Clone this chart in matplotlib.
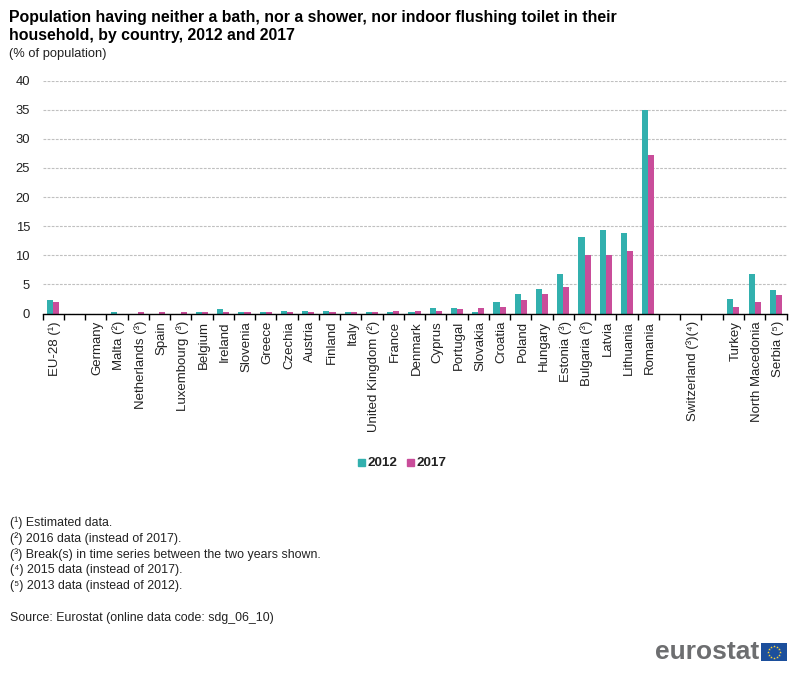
#!/usr/bin/env python3
"""Households without bath, shower or indoor toilet, 2012 vs 2017."""

import numpy as np
import matplotlib
matplotlib.use("Agg")
import matplotlib.pyplot as plt
from matplotlib.patches import Rectangle
from matplotlib.transforms import ScaledTranslation

plt.rcParams["font.family"] = ["Liberation Sans", "DejaVu Sans"]

W, H = 805, 679
TEAL = "#32b0ae"
PINK = "#c94d9a"

countries = ["EU-28 (¹)", "", "Germany", "Malta (²)", "Netherlands (³)", "Spain",
             "Luxembourg (³)", "Belgium", "Ireland", "Slovenia", "Greece", "Czechia",
             "Austria", "Finland", "Italy", "United Kingdom (²)", "France", "Denmark",
             "Cyprus", "Portugal", "Slovakia", "Croatia", "Poland", "Hungary",
             "Estonia (³)", "Bulgaria (³)", "Latvia", "Lithuania", "Romania", "",
             "Switzerland (³)(⁴)", "", "Turkey", "North Macedonia", "Serbia (⁵)"]
values_2012 = [2.4, 0, 0, 0.2, 0, 0, 0, 0.2, 0.8, 0.2, 0.2, 0.4, 0.4, 0.4, 0.2, 0.2, 0.2, 0.2,
               1.0, 1.0, 0.2, 2.0, 3.4, 4.2, 6.8, 13.2, 14.4, 13.8, 35.0, 0, 0, 0, 2.5, 6.8, 4.1]
values_2017 = [1.9, 0, 0, 0, 0.2, 0.2, 0.2, 0.2, 0.2, 0.2, 0.2, 0.2, 0.2, 0.2, 0.2, 0.2, 0.4, 0.4,
               0.4, 0.8, 1.0, 1.2, 2.4, 3.4, 4.6, 10.0, 10.0, 10.8, 27.2, 0, 0, 0, 1.2, 2.0, 3.2]
y_ticks = [0, 5, 10, 15, 20, 25, 30, 35, 40]
notes = ["(¹) Estimated data.",
         "(²) 2016 data (instead of 2017).",
         "(³) Break(s) in time series between the two years shown.",
         "(⁴) 2015 data (instead of 2017).",
         "(⁵) 2013 data (instead of 2012)."]
source = "Source: Eurostat (online data code: sdg_06_10)"


def fx(px):
    return px / W


def fy(px):
    return 1 - px / H


fig = plt.figure(figsize=(W / 100, H / 100), dpi=100, facecolor="white")

# plot area in pixels: x 42.5-786.5, y 80.5-313.5
ax = fig.add_axes([fx(42.5), fy(313.5), 744 / W, 233 / H])
x = np.arange(len(countries))
bw = 0.285
ax.bar(x - bw / 2, values_2012, bw, color=TEAL, zorder=3)
ax.bar(x + bw / 2, values_2017, bw, color=PINK, zorder=3)

ax.set_xlim(-0.5, len(countries) - 0.5)
ax.set_ylim(0, 40)
ax.set_yticks(y_ticks)
ax.tick_params(axis="y", length=0, labelsize=9.4, pad=9, colors="#222222")
ax.yaxis.grid(True, color="#c0c0c0", ls=(0, (2.5, 1.2)), lw=0.8, zorder=0)
ax.set_axisbelow(True)
for s in ["top", "left", "right"]:
    ax.spines[s].set_visible(False)
ax.spines["bottom"].set_linewidth(1.0)
ax.spines["bottom"].set_zorder(5)

# ticks sit on the slot boundaries, labels in the slot centres
ax.set_xticks(np.arange(len(countries) + 1) - 0.5)
ax.set_xticklabels([])
ax.tick_params(axis="x", which="major", length=4, width=1.0, color="black")
ax.set_xticks(x, minor=True)
ax.set_xticklabels(countries, minor=True, rotation=90, fontsize=9.5, color="#222222",
                   ha="center", va="top")
ax.tick_params(axis="x", which="minor", length=0, pad=5.4)
nudge = ScaledTranslation(2 / 100, 0, fig.dpi_scale_trans)
for lab in ax.get_xticklabels(minor=True):
    lab.set_transform(lab.get_transform() + nudge)

# title block
fig.text(fx(9), fy(17.5), "Population having neither a bath, nor a shower, nor indoor flushing toilet in their",
         fontsize=11.42, fontweight="bold", va="center", color="black")
fig.text(fx(9), fy(35.5), "household, by country, 2012 and 2017",
         fontsize=11.42, fontweight="bold", va="center", color="black")
fig.text(fx(9), fy(53.5), "(% of population)", fontsize=9.3, va="center", color="#222222")

# legend
fig.patches.append(Rectangle((fx(358), fy(466)), 7 / W, 7 / H, transform=fig.transFigure, color=TEAL))
fig.patches.append(Rectangle((fx(407), fy(466)), 7 / W, 7 / H, transform=fig.transFigure, color=PINK))
fig.text(fx(367.5), fy(462.5), "2012", fontsize=9.7, fontweight="bold", va="center", color="#222222")
fig.text(fx(416.5), fy(462.5), "2017", fontsize=9.7, fontweight="bold", va="center", color="#222222")

# footnotes
for i, note in enumerate(notes):
    fig.text(fx(10), fy(522.5 + i * 16), note, fontsize=8.9, va="center", color="#222222")
fig.text(fx(10), fy(618.5), source, fontsize=8.9, va="center", color="#222222")

# logo
fig.text(fx(655), fy(652), "eurostat", fontsize=19, fontweight="bold",
         va="center", color="#6d6e70")
flag = fig.add_axes([fx(761), fy(661), 26 / W, 18 / H])
flag.set_xlim(-13, 13)
flag.set_ylim(-9, 9)
flag.set_facecolor("#1c4f9c")
flag.set_xticks([])
flag.set_yticks([])
for s in flag.spines.values():
    s.set_visible(False)
ang = np.arange(12) * np.pi / 6
flag.scatter(5.6 * np.cos(ang), 5.6 * np.sin(ang), s=4, marker="*", color="#ffd83a", linewidths=0)

fig.savefig("out.png", dpi=100)
